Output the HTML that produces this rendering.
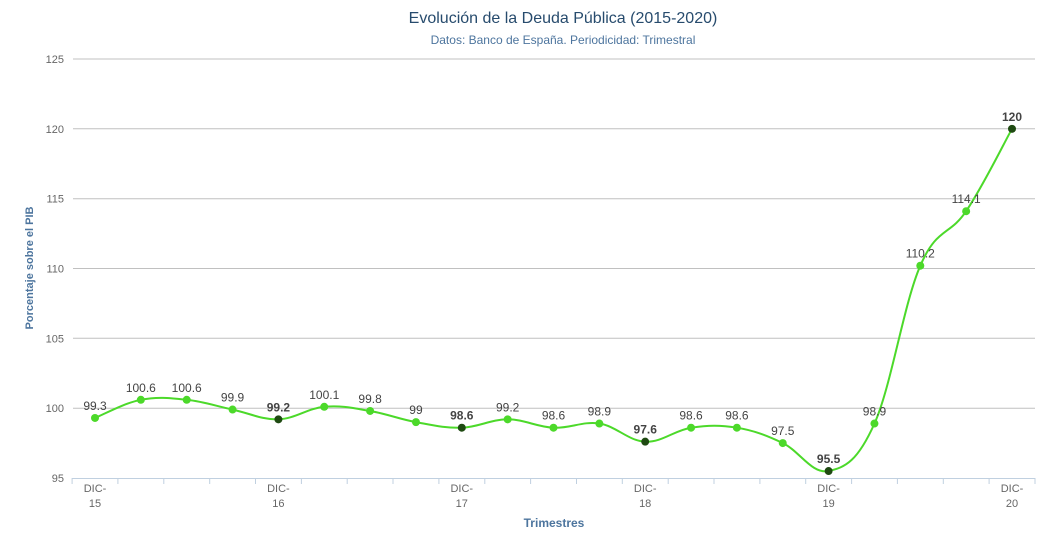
<!DOCTYPE html>
<html><head><meta charset="utf-8"><style>
html,body{margin:0;padding:0;background:#fff;}
svg{display:block;font-family:"Liberation Sans",sans-serif;}
</style></head><body>
<svg id="c" width="1042" height="536" xmlns="http://www.w3.org/2000/svg">
<text x="563" y="23" text-anchor="middle" font-size="16" fill="#274b6d">Evolución de la Deuda Pública (2015-2020)</text>
<text x="563" y="44" text-anchor="middle" font-size="12" fill="#4d759e">Datos: Banco de España. Periodicidad: Trimestral</text>
<text transform="translate(33,268) rotate(-90)" text-anchor="middle" font-size="11" font-weight="bold" fill="#4d759e">Porcentaje sobre el PIB</text>
<text x="554" y="527" text-anchor="middle" font-size="12" font-weight="bold" fill="#4d759e">Trimestres</text>
<g id="g"></g>
</svg>
<script>
const vals=[99.3,100.6,100.6,99.9,99.2,100.1,99.8,99,98.6,99.2,98.6,98.9,97.6,98.6,98.6,97.5,95.5,98.9,110.2,114.1,120];
const X=i=>95+i*45.85, Y=v=>478-(v-95)*13.967;
let s='';
for(let v=95;v<=125;v+=5){const y=Y(v).toFixed(1);
 if(v>95)s+=`<line x1="73" x2="1035" y1="${y}" y2="${y}" stroke="#c0c0c0" stroke-width="1"/>`;
 s+=`<text x="64" y="${+y+4}" text-anchor="end" font-size="11" fill="#666">${v}</text>`;}
s+=`<line x1="72" x2="1035" y1="478.5" y2="478.5" stroke="#c0d0e0" stroke-width="1"/>`;
for(let i=0;i<=21;i++){const x=(72.1+i*45.85).toFixed(1);s+=`<line x1="${x}" x2="${x}" y1="478" y2="484" stroke="#c0d0e0"/>`;}
for(let k=0;k<=5;k++){const x=X(k*4);s+=`<text x="${x}" y="492" text-anchor="middle" font-size="11" fill="#666">DIC-</text><text x="${x}" y="507" text-anchor="middle" font-size="11" fill="#666">${15+k}</text>`;}
const P=vals.map((v,i)=>[X(i),Y(v)]);
let d=`M${P[0][0]},${P[0][1]}`;
for(let i=0;i<P.length-1;i++){const p0=P[Math.max(0,i-1)],p1=P[i],p2=P[i+1],p3=P[Math.min(P.length-1,i+2)];
 const t=1/6*1.1;
 const c1=[p1[0]+(p2[0]-p0[0])*t,p1[1]+(p2[1]-p0[1])*t],c2=[p2[0]-(p3[0]-p1[0])*t,p2[1]-(p3[1]-p1[1])*t];
 d+=` C${c1[0].toFixed(1)},${c1[1].toFixed(1)} ${c2[0].toFixed(1)},${c2[1].toFixed(1)} ${p2[0].toFixed(1)},${p2[1].toFixed(1)}`;}
s+=`<path d="${d}" fill="none" stroke="#4cd92a" stroke-width="2"/>`;
vals.forEach((v,i)=>{const dark=i%4==0&&i>0;const[x,y]=P[i];
 s+=`<circle cx="${x}" cy="${y}" r="4" fill="${dark?'#1f4a12':'#4cd92a'}"/>`;
 s+=`<text x="${x}" y="${y-8}" text-anchor="middle" font-size="12" fill="#444" ${dark?'font-weight="bold"':''}>${v}</text>`;});
document.getElementById('g').innerHTML=s;
</script>
</body></html>
